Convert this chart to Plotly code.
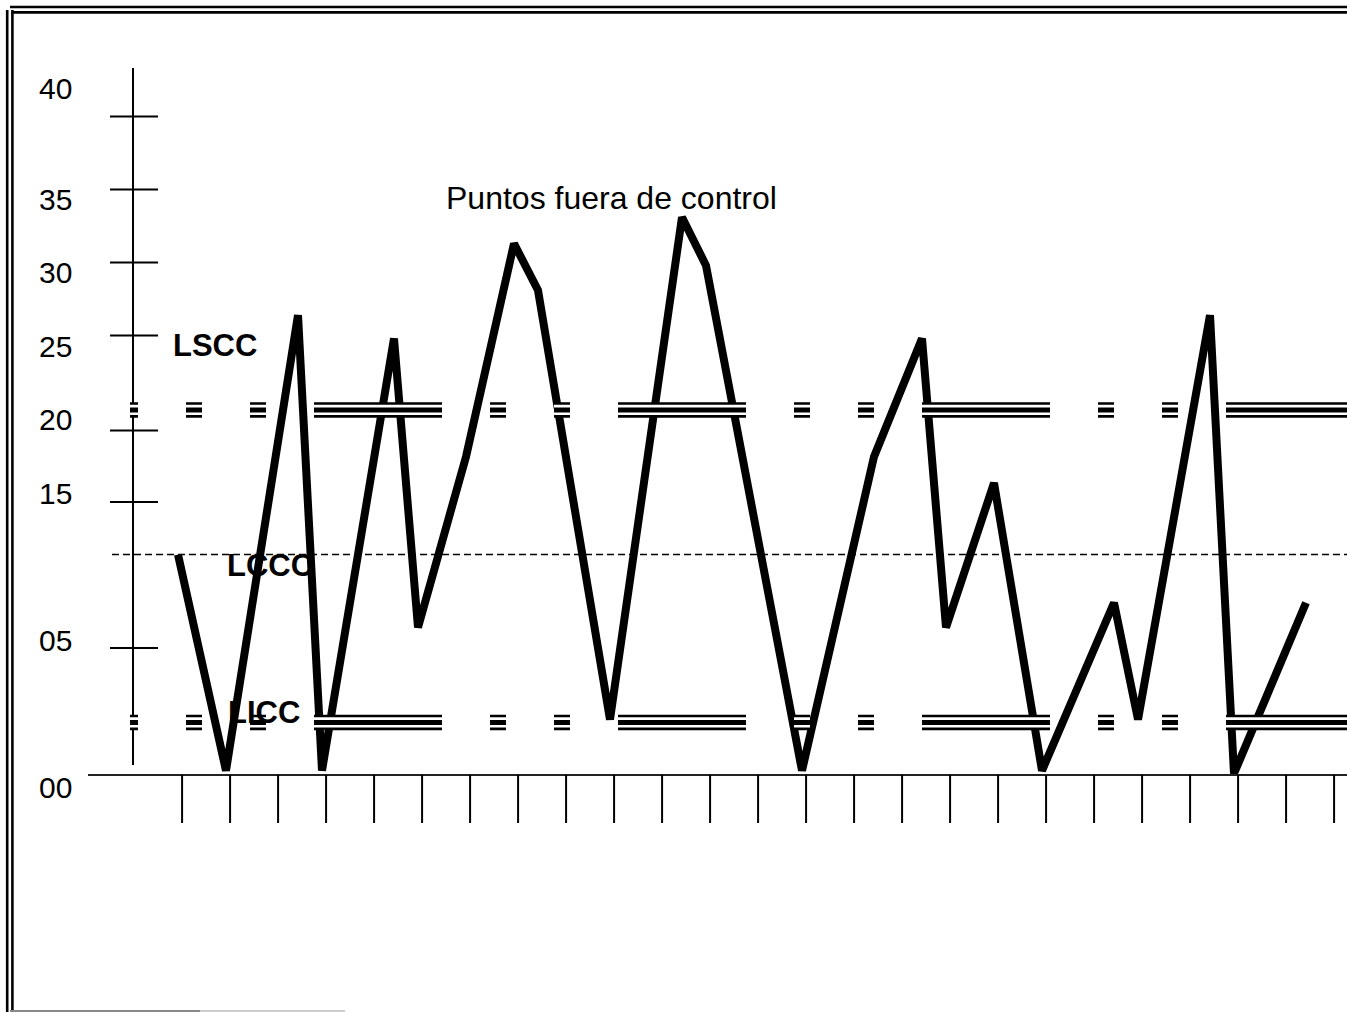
import plotly.graph_objects as go

# ---------------- data ----------------
muestras = [0, 2, 5, 6, 9, 10, 12, 14, 15, 18, 21, 22, 26, 29, 31, 32, 34, 36, 39, 40, 43, 44, 47]
valores = [15.1, 0.3, 31.5, 0.3, 29.9, 10.1, 21.8, 36.4, 33.2, 3.8, 38.2, 34.9, 0.3,
           21.8, 29.9, 10.1, 20.0, 0.3, 11.8, 3.8, 31.5, 0.1, 11.8]

LSCC = 25.0   # límite superior
LCCC = 15.1   # línea central
LICC = 3.6    # límite inferior

y_tick_labels = ["40", "35", "30", "25", "20", "15", "05", "00"]
y_label_pos = [47.05, 39.45, 34.45, 29.38, 24.32, 19.25, 9.18, -0.89]
y_tick_marks = [45.1, 40.1, 35.1, 30.1, 23.6, 18.7, 8.7]
x_tick_marks = [0.17 + 2 * k for k in range(25)]

titulo = "Puntos fuera de control"

# ---------------- geometry / style ----------------
W, H = 1347, 1012
PX_X = 24.0      # px per x unit
PX_Y = 14.6      # px per y unit
X_ORIGIN = 178   # px of x = 0
Y_ORIGIN = 775   # px of y = 0

x_range = [(0 - X_ORIGIN) / PX_X, (W - X_ORIGIN) / PX_X]
y_range = [(Y_ORIGIN - H) / PX_Y, Y_ORIGIN / PX_Y]
X_END = x_range[1]

FONT = "Arial, Liberation Sans, sans-serif"

fig = go.Figure()
fig.add_trace(go.Scatter(
    x=muestras, y=valores, mode="lines",
    line=dict(color="black", width=8),
    hoverinfo="skip", showlegend=False,
))

shapes = []

def seg(x0, y0, x1, y1, width=2, color="black", dash="solid", layer="above", ref="data"):
    d = dict(type="line", x0=x0, y0=y0, x1=x1, y1=y1,
             line=dict(color=color, width=width, dash=dash), layer=layer)
    if ref == "data":
        d.update(xref="x", yref="y")
    else:
        d.update(xref="paper", yref="paper")
    shapes.append(d)

# central line (thin dashed)
seg(-2.75, LCCC, X_END, LCCC, width=1.6, dash="7px,4px", layer="below")

# baseline and bottom ticks
seg(-3.75, 0, X_END, 0, width=2, color="#222")
for xt in x_tick_marks:
    seg(xt, 0, xt, -48 / PX_Y, width=2)

# vertical axis and its crossing ticks
seg(-1.875, 0.68, -1.875, 48.42, width=2)
for yt in y_tick_marks:
    seg(-2.833, yt, -0.833, yt, width=2)

# control limits: triple broken lines
DASH = ("8px,48px,16px,48px,16px,48px,"
        "128px,48px,16px,48px,16px,48px,"
        "128px,48px,16px,48px,16px,48px,"
        "128px,48px,16px,48px,16px,48px,400px,10px")
for lim in (LSCC, LICC):
    seg(-2.0, lim, X_END, lim, width=15.6, dash=DASH)
    off = 3.85 / PX_Y
    seg(-2.0, lim + off, X_END, lim + off, width=2.8, color="white", dash=DASH)
    seg(-2.0, lim - off, X_END, lim - off, width=2.5, color="white", dash=DASH)

# outer frame (paper coordinates)
def px(xp):
    return xp / W

def py(yp):
    return 1 - yp / H

seg(px(10), py(7), px(W), py(7), width=2.6, ref="paper")
seg(px(12), py(12.4), px(W), py(12.4), width=2.6, ref="paper")
seg(px(7.2), py(10), px(7.2), py(H), width=2.6, ref="paper")
seg(px(12.4), py(10), px(12.4), py(H), width=2.6, ref="paper")
seg(px(10), py(1011), px(200), py(1011), width=2, color="#888", ref="paper")
seg(px(200), py(1011), px(345), py(1011), width=2, color="#ccc", ref="paper")

annotations = []
for lab, yp in zip(y_tick_labels, y_label_pos):
    annotations.append(dict(x=-5.125, y=yp, xref="x", yref="y", text=lab,
                            showarrow=False, xanchor="center", yanchor="middle",
                            font=dict(family=FONT, size=30, color="black")))

annotations.append(dict(x=-0.3, y=29.45, xref="x", yref="y", text="<b>LSCC</b>",
                        showarrow=False, xanchor="left", yanchor="middle",
                        font=dict(family=FONT, size=31, color="black")))
annotations.append(dict(x=1.95, y=14.32, xref="x", yref="y", text="<b>LCCC</b>",
                        showarrow=False, xanchor="left", yanchor="middle",
                        font=dict(family=FONT, size=31, color="black")))
annotations.append(dict(x=2.0, y=4.28, xref="x", yref="y", text="<b>LICC</b>",
                        showarrow=False, xanchor="left", yanchor="middle",
                        font=dict(family=FONT, size=31, color="black")))
annotations.append(dict(x=18.08, y=39.52, xref="x", yref="y", text=titulo,
                        showarrow=False, xanchor="center", yanchor="middle",
                        font=dict(family=FONT, size=32, color="black")))

fig.update_layout(
    width=W, height=H,
    margin=dict(l=0, r=0, t=0, b=0, pad=0),
    paper_bgcolor="white", plot_bgcolor="white",
    showlegend=False,
    xaxis=dict(visible=False, range=x_range, fixedrange=True),
    yaxis=dict(visible=False, range=y_range, fixedrange=True),
    shapes=shapes,
    annotations=annotations,
)

fig.write_html(
    "out.html",
    config={"displayModeBar": False},
    post_script="document.body.style.margin='0';document.body.style.overflow='hidden';",
)
